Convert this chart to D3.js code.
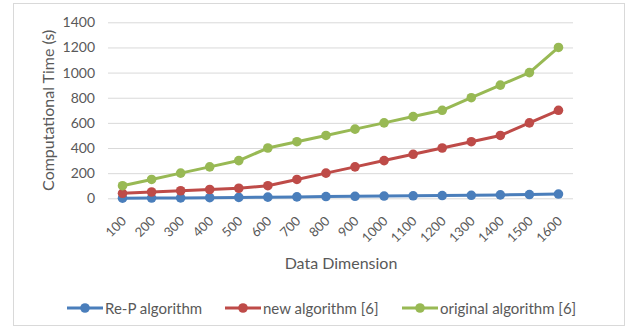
<!DOCTYPE html>
<html>
<head>
<meta charset="utf-8">
<script src="https://cdn.jsdelivr.net/npm/d3@7"></script>
<style>
  html, body { margin: 0; padding: 0; background: #fff; }
  svg text { font-family: Lato, "Open Sans", sans-serif; fill: #595959; }
</style>
</head>
<body>
<svg id="chart" width="629" height="328"></svg>
<script>
// Data dimension categories
const dimensions = ["100","200","300","400","500","600","700","800","900","1000","1100","1200","1300","1400","1500","1600"];
// Computational time (s) per algorithm
const repValues      = [1, 2, 3, 5, 7, 9, 11, 14, 16, 18, 20, 22, 24, 27, 30, 34];
const newValues      = [40, 50, 60, 70, 80, 100, 150, 200, 250, 300, 350, 400, 450, 500, 600, 700];
const originalValues = [100, 150, 200, 250, 300, 400, 450, 500, 550, 600, 650, 700, 800, 900, 1000, 1200];
const yTicks = [0, 200, 400, 600, 800, 1000, 1200, 1400];

const seriesNames  = ["Re-P algorithm", "new algorithm [6]", "original algorithm [6]"];
const seriesValues = [repValues, newValues, originalValues];
const seriesColors = ["#4a7ebb", "#be4b48", "#98b954"];

const svg = d3.select("#chart");

// chart frame
svg.append("rect")
  .attr("x", 13.5).attr("y", 3.5)
  .attr("width", 611).attr("height", 322)
  .attr("fill", "#fff").attr("stroke", "#d9d9d9").attr("stroke-width", 1);

const plotLeft = 108, plotRight = 573, plotTop = 22.3, plotBottom = 198.3;

const x = d3.scaleBand().domain(dimensions).range([plotLeft, plotRight]).paddingInner(0).paddingOuter(0);
const y = d3.scaleLinear().domain([0, 1400]).range([plotBottom, plotTop]);

// horizontal gridlines + y tick labels
const yAxis = d3.axisLeft(y).tickValues(yTicks).tickSize(-(plotRight - plotLeft)).tickPadding(13).tickFormat(d3.format("d"));
const gy = svg.append("g").attr("transform", `translate(${plotLeft},0)`).call(yAxis);
gy.select(".domain").remove();
gy.selectAll(".tick line").attr("stroke", "#d9d9d9").attr("stroke-width", 1);
gy.selectAll(".tick text").attr("font-size", 14).style("fill", "#595959");

// x tick labels, rotated
const xAxis = d3.axisBottom(x).tickSize(0).tickPadding(0);
const gx = svg.append("g").attr("transform", `translate(0,${plotBottom})`).call(xAxis);
gx.select(".domain").remove();
gx.selectAll(".tick text")
  .attr("font-size", 13)
  .attr("text-anchor", "end")
  .attr("dominant-baseline", "central")
  .attr("dy", null)
  .attr("y", 0)
  .attr("transform", "translate(1,20) rotate(-45)")
  .style("fill", "#595959");

// axis titles
svg.append("text")
  .attr("transform", `translate(47,${(plotTop + plotBottom) / 2}) rotate(-90)`)
  .attr("text-anchor", "middle").attr("dominant-baseline", "central")
  .attr("font-size", 16)
  .text("Computational Time (s)");

svg.append("text")
  .attr("x", 341).attr("y", 262)
  .attr("text-anchor", "middle").attr("dominant-baseline", "central")
  .attr("font-size", 16)
  .text("Data Dimension");

// series lines + markers
const line = d3.line()
  .x((d, i) => x(dimensions[i]) + x.bandwidth() / 2)
  .y(d => y(d));

seriesValues.forEach((vals, s) => {
  const g = svg.append("g");
  g.append("path")
    .datum(vals)
    .attr("d", line)
    .attr("fill", "none")
    .attr("stroke", seriesColors[s])
    .attr("stroke-width", 3)
    .attr("stroke-linejoin", "round");
  g.selectAll("circle")
    .data(vals)
    .join("circle")
    .attr("cx", (d, i) => x(dimensions[i]) + x.bandwidth() / 2)
    .attr("cy", d => y(d))
    .attr("r", 4.8)
    .attr("fill", seriesColors[s]);
});

// legend
const legendX = [67, 225, 402];
const legendY = 308;
seriesNames.forEach((name, s) => {
  const g = svg.append("g").attr("transform", `translate(${legendX[s]},${legendY})`);
  g.append("line").attr("x1", 0).attr("x2", 36).attr("y1", 0).attr("y2", 0)
    .attr("stroke", seriesColors[s]).attr("stroke-width", 3);
  g.append("circle").attr("cx", 18).attr("cy", 0).attr("r", 4.8).attr("fill", seriesColors[s]);
  g.append("text").attr("x", 38).attr("y", 0)
    .attr("dominant-baseline", "central")
    .attr("font-size", 15)
    .text(name);
});
</script>
</body>
</html>
